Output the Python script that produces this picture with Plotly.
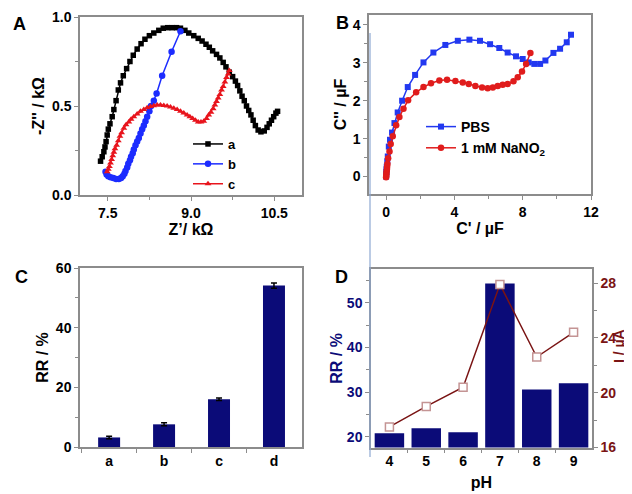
import plotly.graph_objects as go

# ---------------- data ----------------
# Panel A : Nyquist plots
a_x = [7.37,7.40,7.43,7.45,7.47,7.49,7.51,7.54,7.58,7.61,7.65,7.69,7.73,7.78,7.84,7.90,7.96,8.03,8.10,8.17,
       8.25,8.33,8.42,8.50,8.58,8.66,8.74,8.81,8.89,8.96,9.05,9.13,9.20,9.27,9.33,9.39,9.46,9.52,9.58,9.63,
       9.69,9.75,9.80,9.84,9.88,9.92,9.96,10.00,10.04,10.08,10.12,10.16,10.21,10.26,10.32,10.37,10.41,10.45,10.49,10.53,10.56]
a_y = [0.19,0.215,0.243,0.27,0.30,0.337,0.37,0.40,0.44,0.48,0.53,0.59,0.63,0.67,0.71,0.75,0.785,0.82,0.85,0.875,
       0.895,0.91,0.925,0.937,0.94,0.94,0.94,0.937,0.925,0.91,0.895,0.88,0.865,0.847,0.83,0.81,0.79,0.77,0.745,0.72,
       0.69,0.665,0.64,0.615,0.585,0.555,0.53,0.50,0.475,0.45,0.42,0.39,0.365,0.355,0.36,0.38,0.40,0.42,0.44,0.46,0.47]
b_x = [7.46,7.48,7.51,7.55,7.60,7.65,7.70,7.74,7.77,7.80,7.82,7.85,7.87,7.90,7.92,7.95,7.97,8.00,8.03,8.06,
       8.09,8.12,8.15,8.18,8.21,8.25,8.28,8.33,8.38,8.48,8.65,8.81]
b_y = [0.13,0.115,0.105,0.10,0.095,0.09,0.09,0.095,0.105,0.12,0.135,0.155,0.175,0.195,0.215,0.235,0.255,0.28,0.30,0.32,
       0.345,0.37,0.39,0.415,0.44,0.47,0.50,0.53,0.57,0.67,0.805,0.92]
c_x = [7.49,7.51,7.53,7.55,7.57,7.59,7.61,7.63,7.66,7.69,7.72,7.75,7.79,7.83,7.88,7.92,7.97,8.03,8.09,8.15,
       8.21,8.27,8.33,8.39,8.45,8.51,8.57,8.63,8.69,8.75,8.81,8.87,8.93,8.98,9.03,9.08,9.13,9.18,9.23,9.28,
       9.32,9.36,9.40,9.43,9.46,9.49,9.52,9.55,9.58,9.61,9.64,9.67,9.69]
c_y = [0.13,0.145,0.16,0.18,0.20,0.22,0.24,0.26,0.28,0.305,0.33,0.35,0.375,0.395,0.41,0.425,0.44,0.455,0.47,0.48,
       0.49,0.497,0.502,0.505,0.505,0.503,0.50,0.495,0.488,0.48,0.47,0.46,0.45,0.44,0.43,0.42,0.41,0.41,0.415,0.43,
       0.45,0.465,0.485,0.505,0.525,0.545,0.565,0.59,0.61,0.635,0.66,0.68,0.70]

# Panel B : capacitance plots
pbs_x = [0.0,0.01,0.02,0.03,0.04,0.07,0.10,0.16,0.23,0.35,0.49,0.68,0.94,1.27,1.70,2.19,2.77,3.47,4.20,4.88,
         5.50,6.09,6.63,7.12,7.61,8.00,8.35,8.68,9.02,9.33,9.80,10.19,10.58,10.83]
pbs_y = [0.0,0.06,0.12,0.19,0.26,0.40,0.53,0.79,0.97,1.16,1.41,1.69,2.00,2.36,2.68,3.01,3.27,3.47,3.58,3.61,
         3.58,3.49,3.39,3.27,3.17,3.10,3.01,2.97,2.97,3.06,3.26,3.37,3.54,3.74]
nit_x = [0.0,0.01,0.02,0.03,0.05,0.06,0.08,0.12,0.20,0.27,0.39,0.59,0.78,1.02,1.29,1.76,2.19,2.63,3.12,3.57,
         4.06,4.49,4.84,5.23,5.62,5.95,6.25,6.54,6.83,7.12,7.46,7.71,7.96,8.20,8.45]
nit_y = [-0.02,0.03,0.08,0.14,0.20,0.26,0.33,0.48,0.66,0.86,1.06,1.35,1.57,1.79,2.01,2.22,2.36,2.46,2.53,2.55,
         2.52,2.48,2.44,2.39,2.35,2.33,2.35,2.39,2.42,2.44,2.51,2.62,2.77,2.97,3.26]

# Panel C : response ratio
c_cats = ["a", "b", "c", "d"]
c_rr = [3.2, 7.6, 16.0, 54.1]
c_err = [0.4, 0.5, 0.4, 0.9]

# Panel D : pH dependence
ph = [4, 5, 6, 7, 8, 9]
ph_rr = [20.8, 21.9, 21.0, 54.3, 30.6, 32.0]
ph_i = [17.5, 19.0, 20.4, 27.9, 22.6, 24.4]

# ---------------- style ----------------
FONT = "Liberation Sans, Arial, sans-serif"
GRAY = "#8c8c8c"
NAVY = "#0b0b78"
DRED = "#7a1414"
OFF = 8                     # page body margin
W, H = 632 - OFF, 494 - OFF

def px_x(p):
    return (p - OFF) / W

def px_y(p):
    return 1 - (p - OFF) / H

def tick_font(color="black", size=14):
    return dict(family=FONT, size=size, color=color, weight="bold")

def axis_common(**kw):
    d = dict(showline=True, linecolor=GRAY, linewidth=1.5, mirror=True,
             ticks="outside", ticklen=4, tickwidth=1.2, tickcolor=GRAY,
             showgrid=False, zeroline=False, tickfont=tick_font(), automargin=False)
    d.update(kw)
    return d

fig = go.Figure()

# Panel A
fig.add_trace(go.Scatter(x=a_x, y=a_y, mode="lines+markers", name="a",
                         line=dict(color="black", width=1.5),
                         marker=dict(symbol="square", size=5.5, color="black"),
                         xaxis="x", yaxis="y", legend="legend"))
fig.add_trace(go.Scatter(x=b_x, y=b_y, mode="lines+markers", name="b",
                         line=dict(color="#1c2cff", width=1.5),
                         marker=dict(symbol="circle", size=6.5, color="#1c2cff"),
                         xaxis="x", yaxis="y", legend="legend"))
fig.add_trace(go.Scatter(x=c_x, y=c_y, mode="lines+markers", name="c",
                         line=dict(color="#e8141c", width=1.5),
                         marker=dict(symbol="triangle-up", size=6, color="#e8141c"),
                         xaxis="x", yaxis="y", legend="legend"))

# Panel B
fig.add_trace(go.Scatter(x=pbs_x, y=pbs_y, mode="lines+markers", name="PBS",
                         line=dict(color="#2238f0", width=1.5),
                         marker=dict(symbol="square", size=6, color="#2238f0"),
                         xaxis="x2", yaxis="y2", legend="legend2"))
fig.add_trace(go.Scatter(x=nit_x, y=nit_y, mode="lines+markers", name="1 mM NaNO<sub>2</sub>",
                         line=dict(color="#e01c1c", width=1.5),
                         marker=dict(symbol="circle", size=6.5, color="#e01c1c"),
                         xaxis="x2", yaxis="y2", legend="legend2"))

# Panel C
fig.add_trace(go.Bar(x=list(range(len(c_cats))), y=c_rr, width=0.4, marker=dict(color=NAVY, line=dict(width=0)),
                     error_y=dict(type="data", array=c_err, color="black", thickness=1.5, width=3),
                     showlegend=False, xaxis="x3", yaxis="y3"))

# Panel D
fig.add_trace(go.Bar(x=ph, y=ph_rr, width=0.8, marker=dict(color=NAVY, line=dict(width=0)),
                     showlegend=False, xaxis="x4", yaxis="y4"))
fig.add_trace(go.Scatter(x=ph, y=ph_i, mode="lines+markers",
                         line=dict(color=DRED, width=1.5),
                         marker=dict(symbol="square", size=8, color="white", line=dict(color="#c49494", width=1.5)),
                         showlegend=False, xaxis="x4", yaxis="y5"))

title_font = dict(family=FONT, size=16, color="black", weight="bold")

fig.update_layout(
    width=W, height=H, margin=dict(l=0, r=0, t=0, b=0),
    paper_bgcolor="white", plot_bgcolor="white",
    barmode="overlay",
    xaxis=axis_common(domain=[px_x(80), px_x(302)], anchor="y", range=[7.0, 11.0],
                      tickvals=[7.5, 9.0, 10.5], ticktext=["7.5", "9.0", "10.5"],
                      minor=dict(tickvals=[8.25, 9.75], ticks="outside", ticklen=3, tickcolor=GRAY),
                      title=dict(text="Z’/ kΩ", font=title_font, standoff=0)),
    yaxis=axis_common(domain=[px_y(195), px_y(17)], anchor="x", range=[0, 1.0],
                      tickvals=[0, 0.5, 1.0], ticktext=["0.0", "0.5", "1.0"],
                      minor=dict(tickvals=[0.25, 0.75], ticks="outside", ticklen=3, tickcolor=GRAY),
                      title=dict(text="-Z'' / kΩ", font=title_font, standoff=3)),
    xaxis2=axis_common(domain=[px_x(369), px_x(591)], anchor="y2", range=[-1, 12],
                       tickvals=[0, 4, 8, 12],
                       minor=dict(tickvals=[2, 6, 10], ticks="outside", ticklen=3, tickcolor=GRAY),
                       title=dict(text="C' / µF", font=title_font, standoff=4)),
    yaxis2=axis_common(domain=[px_y(194), px_y(15)], anchor="x2", range=[-0.46, 4.26],
                       tickvals=[0, 1, 2, 3, 4],
                       minor=dict(tickvals=[-0.5, 0.5, 1.5, 2.5, 3.5], ticks="outside", ticklen=3, tickcolor=GRAY),
                       title=dict(text="C'' / µF", font=title_font, standoff=2)),
    xaxis3=axis_common(domain=[px_x(80), px_x(302)], anchor="y3", range=[-0.53, 3.51],
                       tickvals=list(range(len(c_cats))), ticktext=c_cats, ticklen=0,
                       minor=dict(tickvals=[-0.5, 0.5, 1.5, 2.5], ticks="outside", ticklen=4, tickcolor=GRAY)),
    yaxis3=axis_common(domain=[px_y(447), px_y(268)], anchor="x3", range=[0, 60],
                       tickvals=[0, 20, 40, 60],
                       minor=dict(tickvals=[10, 30, 50], ticks="outside", ticklen=3, tickcolor=GRAY),
                       title=dict(text="RR / %", font=title_font, standoff=3)),
    xaxis4=axis_common(domain=[px_x(371), px_x(592)], anchor="y4", range=[3.5, 9.5],
                       tickvals=ph, ticklen=0,
                       minor=dict(tickvals=[4.5, 5.5, 6.5, 7.5, 8.5], ticks="outside", ticklen=4, tickcolor=GRAY),
                       title=dict(text="pH", font=title_font, standoff=9)),
    yaxis4=axis_common(domain=[px_y(447.5), px_y(269.3)], anchor="x4", range=[17.6, 57.5], mirror=False,
                       tickvals=[20, 30, 40, 50], tickfont=tick_font(NAVY),
                       minor=dict(tickvals=[25, 35, 45, 55], ticks="outside", ticklen=3, tickcolor=GRAY),
                       title=dict(text="RR / %", font=dict(family=FONT, size=16, color=NAVY, weight="bold"), standoff=0)),
    yaxis5=axis_common(overlaying="y4", side="right", anchor="x4", range=[16, 29], mirror=False,
                       tickvals=[16, 20, 24, 28], tickfont=tick_font(DRED),
                       minor=dict(tickvals=[18, 22, 26], ticks="outside", ticklen=3, tickcolor=GRAY)),
    legend=dict(x=px_x(188), y=px_y(129), xanchor="left", yanchor="top", bgcolor="rgba(0,0,0,0)",
                font=dict(family=FONT, size=13, color="black", weight="bold"), tracegroupgap=0, itemwidth=30),
    legend2=dict(x=px_x(421), y=px_y(111), xanchor="left", yanchor="top", bgcolor="rgba(0,0,0,0)",
                 font=dict(family=FONT, size=14, color="black", weight="bold"), tracegroupgap=0, itemwidth=30),
)

# right-axis title of panel D
fig.add_annotation(text="I / µA", x=px_x(619), y=px_y(346), xref="paper", yref="paper", showarrow=False,
                   xanchor="center", yanchor="middle", textangle=-90,
                   font=dict(family=FONT, size=14, color=DRED, weight="bold"))

letters = [("A", 19, 24), ("B", 342, 23), ("C", 21, 277), ("D", 341, 277)]
for t, x, y in letters:
    fig.add_annotation(text=t, x=px_x(x), y=px_y(y), xref="paper", yref="paper", showarrow=False,
                       xanchor="center", yanchor="middle",
                       font=dict(family=FONT, size=18, color="black", weight="bold"))

fig.add_shape(type="line", xref="paper", yref="paper", x0=px_x(370), x1=px_x(370),
              y0=px_y(457), y1=px_y(33), line=dict(color="#8ea8d2", width=1.2))

fig.write_html("out.html")
